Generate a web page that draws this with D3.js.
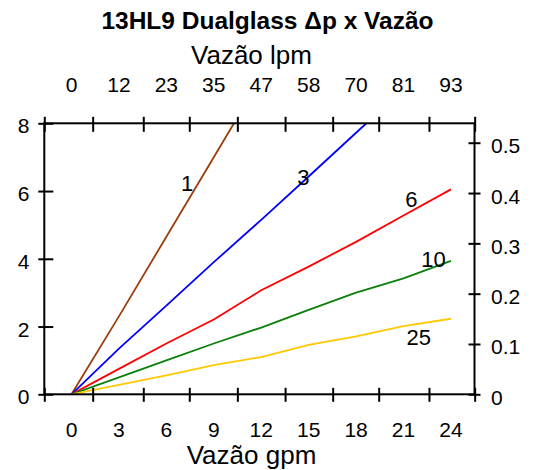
<!DOCTYPE html>
<html>
<head>
<meta charset="utf-8">
<script src="https://cdn.jsdelivr.net/npm/d3@7"></script>
<style>
  html, body { margin: 0; padding: 0; background: #fff; }
  svg { display: block; font-family: "Liberation Sans", Arial, Helvetica, sans-serif; }
</style>
</head>
<body>
<svg id="chart" width="535" height="470"></svg>
<script>
// ---- data ----
const titleText = "13HL9 Dualglass \u0394p x Vaz\u00e3o";
const topTitle = "Vaz\u00e3o lpm";
const bottomTitle = "Vaz\u00e3o gpm";

const gpm = [0, 3, 6, 9, 12, 15, 18, 21, 24];
const bottomTickLabels = ["0", "3", "6", "9", "12", "15", "18", "21", "24"];
const topTickLabels = ["0", "12", "23", "35", "47", "58", "70", "81", "93"];
const xTickMarks = [-1.72, 1.34, 4.54, 7.45, 10.49, 13.51, 16.52, 19.43, 22.61, 25.5];
const leftTicks = [0, 2, 4, 6, 8];
const rightTicks = [0, 0.1, 0.2, 0.3, 0.4, 0.5];
const rightTickLabels = ["0", "0.1", "0.2", "0.3", "0.4", "0.5"];

const seriesNames = ["1", "3", "6", "10", "25"];
const s1  = [0, 2.30, 4.65, 7.00, 9.35];
const s3  = [0, 1.35, 2.62, 3.90, 5.15, 6.43, 7.72, 9.00];
const s6  = [0, 0.75, 1.50, 2.21, 3.07, 3.77, 4.50, 5.28, 6.05];
const s10 = [0, 0.50, 1.00, 1.50, 1.97, 2.49, 3.00, 3.42, 3.94];
const s25 = [0, 0.28, 0.56, 0.86, 1.10, 1.46, 1.71, 2.01, 2.23];
const seriesColors = ["#9c3d0c", "#0000ff", "#ff0000", "#0a800a", "#ffc800"];
// curve label anchors [gpm, dp]
const labelGpm = [7.31, 14.66, 21.5, 22.89, 21.96];
const labelDp  = [5.99, 6.18, 5.52, 3.76, 1.46];

// ---- layout ----
const svg = d3.select("#chart");
const L = 44.3, R = 474.5, T = 123.3, B = 394.3;

const x = d3.scaleLinear().domain([-1.72, 25.49]).range([L, R]);
const y = d3.scaleLinear().domain([0, 8]).range([B, T]);
const y2 = d3.scaleLinear().domain([0, 0.5386]).range([B, T]);

// title
svg.append("text").attr("x", 267.5).attr("y", 28.5)
  .attr("text-anchor", "middle").attr("font-size", 24.5).attr("font-weight", "bold")
  .text(titleText);
svg.append("text").attr("x", 251.5).attr("y", 63.5)
  .attr("text-anchor", "middle").attr("font-size", 26)
  .text(topTitle);
svg.append("text").attr("x", 251.5).attr("y", 463.5)
  .attr("text-anchor", "middle").attr("font-size", 26)
  .text(bottomTitle);

// clip
svg.append("clipPath").attr("id", "plotclip").append("rect")
  .attr("x", L).attr("y", T).attr("width", R - L).attr("height", B - T);

// lines
const allSeries = [s1, s3, s6, s10, s25];
const line = d3.line().x((d, i) => x(gpm[i])).y(d => y(d));
const gLines = svg.append("g").attr("clip-path", "url(#plotclip)");
allSeries.forEach((s, k) => {
  gLines.append("path").datum(s)
    .attr("d", line)
    .attr("fill", "none")
    .attr("stroke", seriesColors[k])
    .attr("stroke-width", 1.8)
    .attr("stroke-linejoin", "round");
});

// curve labels
seriesNames.forEach((n, k) => {
  svg.append("text")
    .attr("x", x(labelGpm[k])).attr("y", y(labelDp[k]))
    .attr("text-anchor", "middle").attr("font-size", 22)
    .text(n);
});

// frame
svg.append("rect").attr("x", L).attr("y", T).attr("width", R - L).attr("height", B - T)
  .attr("fill", "none").attr("stroke", "#000").attr("stroke-width", 2);

// axes ticks
function styleAxis(g) {
  g.select(".domain").remove();
  g.selectAll(".tick line").attr("stroke", "#000").attr("stroke-width", 2);
  g.selectAll(".tick text").remove();
}
const bottomAxis = svg.append("g").attr("transform", `translate(0,${B})`)
  .call(d3.axisBottom(x).tickValues(xTickMarks).tickSize(7.5).tickFormat(""));
styleAxis(bottomAxis);
bottomAxis.selectAll(".tick line").attr("y1", -6.5);

const topAxis = svg.append("g").attr("transform", `translate(0,${T})`)
  .call(d3.axisTop(x).tickValues(xTickMarks).tickSize(6.5).tickFormat(""));
styleAxis(topAxis);
topAxis.selectAll(".tick line").attr("y1", 8.5);

const leftAxis = svg.append("g").attr("transform", `translate(${L},0)`)
  .call(d3.axisLeft(y).tickValues(leftTicks).tickSize(6).tickFormat(""));
styleAxis(leftAxis);
leftAxis.selectAll(".tick line").attr("x1", 9);

const rightAxis = svg.append("g").attr("transform", `translate(${R},0)`)
  .call(d3.axisRight(y2).tickValues(rightTicks).tickSize(6).tickFormat(""));
styleAxis(rightAxis);
rightAxis.selectAll(".tick line").attr("x1", -6);

// tick labels
const fs = 21;
svg.append("g").selectAll("text").data(gpm).join("text")
  .attr("x", d => x(d)).attr("y", 436.5)
  .attr("text-anchor", "middle").attr("font-size", fs)
  .text((d, i) => bottomTickLabels[i]);
svg.append("g").selectAll("text").data(gpm).join("text")
  .attr("x", d => x(d)).attr("y", 92)
  .attr("text-anchor", "middle").attr("font-size", fs)
  .text((d, i) => topTickLabels[i]);
svg.append("g").selectAll("text").data(leftTicks).join("text")
  .attr("x", 29.5).attr("y", d => y(d) + 10)
  .attr("text-anchor", "end").attr("font-size", fs)
  .text(d => String(d));
svg.append("g").selectAll("text").data(rightTicks).join("text")
  .attr("x", 491).attr("y", d => y2(d) + 10.5)
  .attr("text-anchor", "start").attr("font-size", fs)
  .text((d, i) => rightTickLabels[i]);
</script>
</body>
</html>
